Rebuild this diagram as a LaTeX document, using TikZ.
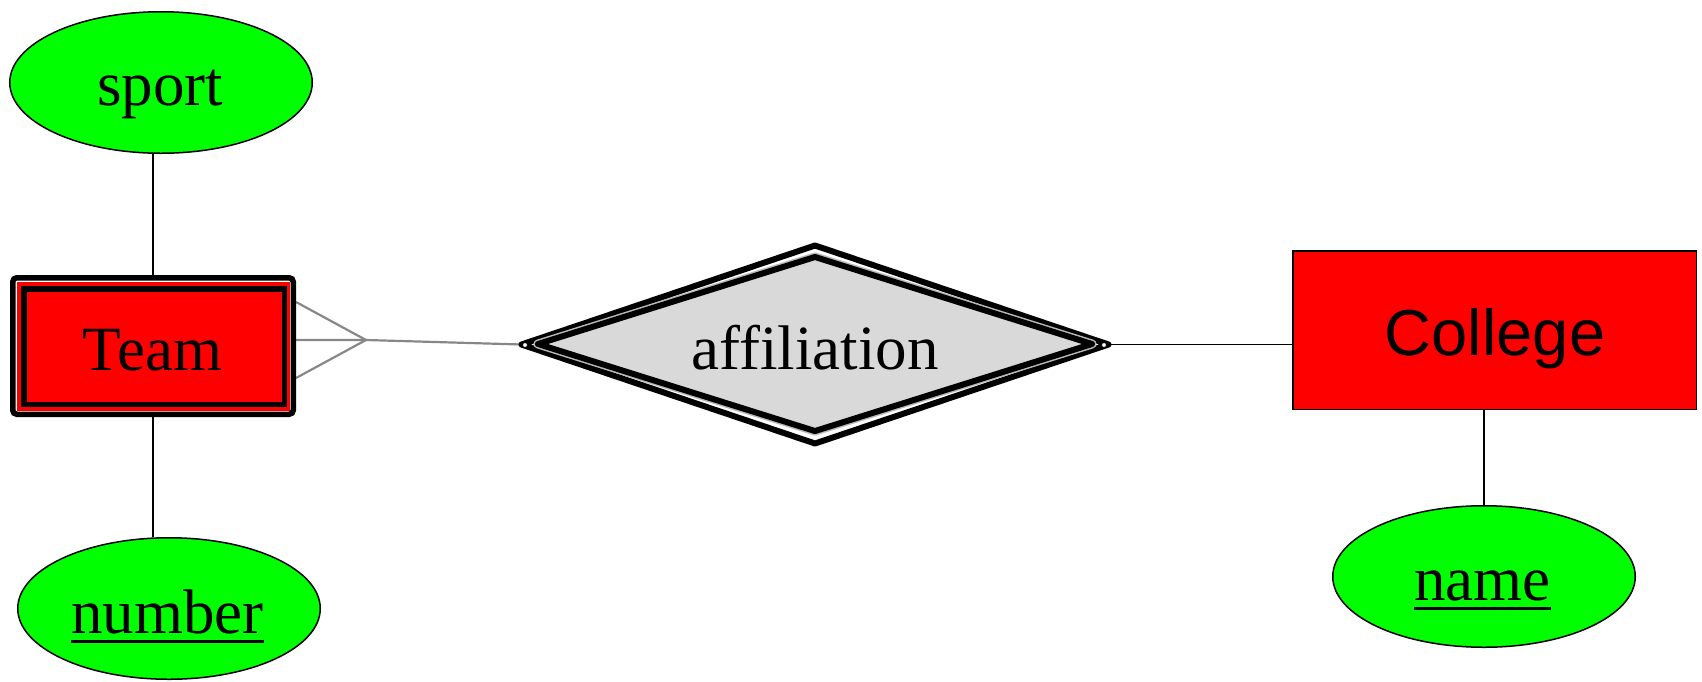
\documentclass[tikz,border=0pt]{standalone}
\usepackage{fontspec}
\setmainfont{Liberation Serif}
\newfontfamily\arialf{Liberation Sans}
\usetikzlibrary{shapes.geometric}
\pgfdeclarelayer{bg}
\pgfsetlayers{bg,main}
\definecolor{ergreen}{RGB}{0,255,0}
\definecolor{erred}{RGB}{255,0,0}
\definecolor{ergray}{RGB}{217,217,217}
\definecolor{cfgray}{RGB}{135,135,135}
\newcommand\myul[1]{\vtop{\hbox{#1}\kern6pt\hrule height 3.5pt}}
\begin{document}
\begin{tikzpicture}[x=1pt,y=-1pt,
  attr/.style={ellipse, draw=black, line width=1.5pt, fill=ergreen, inner sep=0pt,
    minimum width=302.5pt, minimum height=141.5pt},
  lbl/.style={inner sep=0pt, font=\fontsize{63}{70}\selectfont, anchor=base},
  conn/.style={draw=black, line width=1.5pt},
  crow/.style={draw=cfgray, line width=2.2pt},
  tip/.style={circle, draw=black, line width=0.8pt, fill=white, minimum size=5pt, inner sep=0pt},
  thickrel/.style={diamond, draw=black, line width=6pt, line join=round, inner sep=0pt, outer sep=0pt}
]
\useasboundingbox (0,0) rectangle (1702,681);

% attributes
\node[attr] (sport) at (161,82.5) {};
\node[lbl] (sportT) at (160,105) {sport};
\node[attr] (number) at (169,608.5) {};
\node[lbl] (numberT) at (167.5,633) {\myul{number}};
\node[attr] (name) at (1484,576.5) {};
\node[lbl] (nameT) at (1482.5,600) {\myul{name}};

% weak entity Team
\node[draw=black, line width=5.5pt, fill=white, rounded corners=4pt, minimum width=280.5pt,
  minimum height=136.5pt, inner sep=0pt] (TeamOuter) at (153,346) {};
\node[fill=erred, minimum width=273pt, minimum height=129pt, inner sep=0pt] (TeamBand) at (153,346) {};
\node[draw=black, line width=5.5pt, fill=erred, minimum width=260.5pt, minimum height=115.5pt,
  inner sep=0pt] (Team) at (154,346.5) {};
\node[lbl] (TeamT) at (152.5,370) {Team};

% identifying relationship
\node[thickrel, fill=white, minimum width=587pt, minimum height=198pt] (aff) at (815,344.5) {};
\node[thickrel, fill=ergray, minimum width=554pt, minimum height=174pt,
  preaction={draw=gray!55, line width=9pt}] (affIn) at (815,344) {};
\node[lbl] (affT) at (815,369) {affiliation};
\node[tip] (tipL) at (525,345) {};
\node[tip] (tipR) at (1104,345) {};

% entity College
\node[draw=black, line width=1.5pt, fill=erred, minimum width=403.5pt, minimum height=158.5pt,
  inner sep=0pt] (College) at (1494.5,330) {};
\node[lbl, font=\arialf\fontsize{65}{70}\selectfont] (CollegeT) at (1495,355) {College};

% crow's foot points
\coordinate (cfTop) at (296,302);
\coordinate (cfMid) at (296,340);
\coordinate (cfBot) at (296,378);
\coordinate (cfTip) at (366,340);

\begin{pgfonlayer}{bg}
\draw[conn] (TeamOuter.north) -- (TeamOuter.north |- sport.south);
\draw[conn] (TeamOuter.south) -- (TeamOuter.south |- number.north);
\draw[conn] (name.north) -- (name.north |- College.south);
\draw[conn] (aff.east) -- (aff.east -| College.west);
\draw[crow] (cfTop) -- (cfTip) -- (cfBot);
\draw[crow] (cfMid) -- (cfTip) -- (aff.west);
\end{pgfonlayer}
\end{tikzpicture}
\end{document}
